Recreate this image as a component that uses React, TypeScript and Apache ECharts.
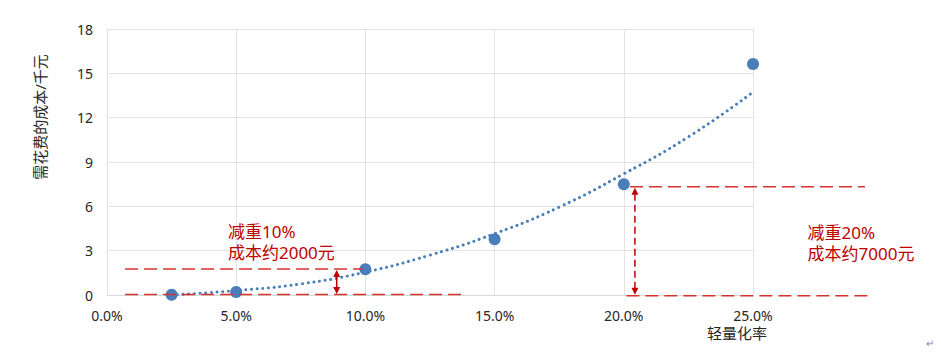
import React, { useEffect, useRef } from "react";
import * as echarts from "echarts";

// Scatter data: lightweight rate (%) vs cost (k yuan)
const rates = [2.5, 5, 10, 15, 20, 25];
const costs = [0.02, 0.2, 1.74, 3.77, 7.49, 15.63];

// Trend line
const trendX = [2.5, 5, 7.5, 10, 12.5, 15, 17.5, 20, 22.5, 24.9];
const trendY = [0.0, 0.3, 0.75, 1.55, 2.7, 4.15, 5.95, 8.2, 10.7, 13.6];

// Dashed reference lines: [xStart, xEnd, y]
const refLines = [
  [0.7, 13.74, 0.03],
  [0.7, 9.9, 1.76],
  [20.24, 29.33, 7.33],
  [20.1, 29.6, -0.05],
];
// Double arrows: [x, yTop, yBottom, dashed]
const arrows: [number, number, number, boolean][] = [
  [8.89, 1.76, 0.0, false],
  [20.43, 7.33, -0.05, true],
];
// Annotation texts: [x, y, line1, line2]
const notes: [number, number, string, string][] = [
  [4.68, 4.33, "减重10%", "成本约2000元"],
  [27.11, 4.22, "减重20%", "成本约7000元"],
];

const xMin = 0;
const xMax = 25;
const xStep = 5;
const yMin = 0;
const yMax = 18;
const yStep = 3;

const FONT = "'Noto Sans', 'Noto Sans CJK SC', sans-serif";
const BLUE = "#4a7ebb";
const RED = "#d8322f";
const DARKRED = "#c00000";

export default function App() {
  const ref = useRef<HTMLDivElement>(null);
  useEffect(() => {
    if (!ref.current) return;
    const chart = echarts.init(ref.current, null, { renderer: "svg" });
    chart.setOption({
      animation: false,
      grid: { left: 107, right: 188, top: 29, bottom: 59 },
      xAxis: {
        type: "value",
        min: xMin,
        max: xMax,
        interval: xStep,
        axisLine: { show: true, lineStyle: { color: "#d9d9d9", width: 1 } },
        axisTick: { show: false },
        splitLine: { show: true, lineStyle: { color: "#e3e3e3", width: 1 } },
        axisLabel: {
          formatter: (v: number) => v.toFixed(1) + "%",
          color: "#262626",
          fontSize: 14,
          fontFamily: FONT,
          margin: 13,
        },
      },
      yAxis: {
        type: "value",
        min: yMin,
        max: yMax,
        interval: yStep,
        axisLine: { show: false },
        axisTick: { show: false },
        splitLine: { show: true, lineStyle: { color: "#e3e3e3", width: 1 } },
        axisLabel: { color: "#262626", fontSize: 14, fontFamily: FONT, margin: 14 },
      },
      series: [
        {
          type: "line",
          data: trendX.map((x, i) => [x, trendY[i]]),
          smooth: true,
          showSymbol: false,
          symbol: "none",
          lineStyle: { color: BLUE, width: 3, type: [0.01, 5.7], cap: "round" },
          z: 2,
        },
        {
          type: "scatter",
          data: rates.map((x, i) => [x, costs[i]]),
          symbolSize: 12,
          itemStyle: { color: BLUE, opacity: 1 },
          z: 3,
        },
      ],
    });

    const px = (x: number, y: number) => chart.convertToPixel({ gridIndex: 0 }, [x, y]) as number[];
    const elements: any[] = [];
    refLines.forEach(([x1, x2, y]) => {
      const a = px(x1, y);
      const b = px(x2, y);
      elements.push({
        type: "line",
        shape: { x1: a[0], y1: a[1], x2: b[0], y2: b[1] },
        style: { stroke: RED, lineWidth: 1.6, lineDash: [13, 6] },
        z: 10,
      });
    });
    arrows.forEach(([x, yt, yb, dashed]) => {
      const t = px(x, yt);
      const b = px(x, yb);
      const h = 8;
      const w = 3.5;
      elements.push({
        type: "line",
        shape: { x1: t[0], y1: t[1] + h - 1, x2: b[0], y2: b[1] - h + 1 },
        style: { stroke: DARKRED, lineWidth: 1.5, lineDash: dashed ? [7, 4] : null },
        z: 11,
      });
      elements.push({
        type: "polygon",
        shape: { points: [[t[0], t[1] + 1], [t[0] - w, t[1] + h], [t[0] + w, t[1] + h]] },
        style: { fill: DARKRED },
        z: 11,
      });
      elements.push({
        type: "polygon",
        shape: { points: [[b[0], b[1] - 1], [b[0] - w, b[1] - h], [b[0] + w, b[1] - h]] },
        style: { fill: DARKRED },
        z: 11,
      });
    });
    notes.forEach(([x, y, l1, l2]) => {
      const p = px(x, y);
      [l1, l2].forEach((t, i) => {
        elements.push({
          type: "text",
          x: p[0],
          y: p[1] + i * 21,
          style: {
            text: t,
            fill: DARKRED,
            font: `17px ${FONT}`,
            align: "left",
            verticalAlign: "middle",
          },
          z: 12,
        });
      });
    });
    elements.push({
      type: "text",
      x: 40,
      y: 117,
      rotation: Math.PI / 2,
      style: {
        text: "需花费的成本/千元",
        fill: "#262626",
        font: `15px ${FONT}`,
        align: "center",
        verticalAlign: "middle",
      },
    });
    elements.push({
      type: "text",
      x: 737,
      y: 333,
      style: {
        text: "轻量化率",
        fill: "#262626",
        font: `15px ${FONT}`,
        align: "center",
        verticalAlign: "middle",
      },
    });
    elements.push({
      type: "text",
      x: 930,
      y: 343,
      style: { text: "↵", fill: "#888888", font: `10px ${FONT}`, align: "center", verticalAlign: "middle" },
    });
    chart.setOption({ graphic: { elements } });

    return () => chart.dispose();
  }, []);
  return (
    <div
      ref={ref}
      style={{ position: "fixed", left: 0, top: 0, width: 941, height: 354, background: "#ffffff" }}
    />
  );
}
